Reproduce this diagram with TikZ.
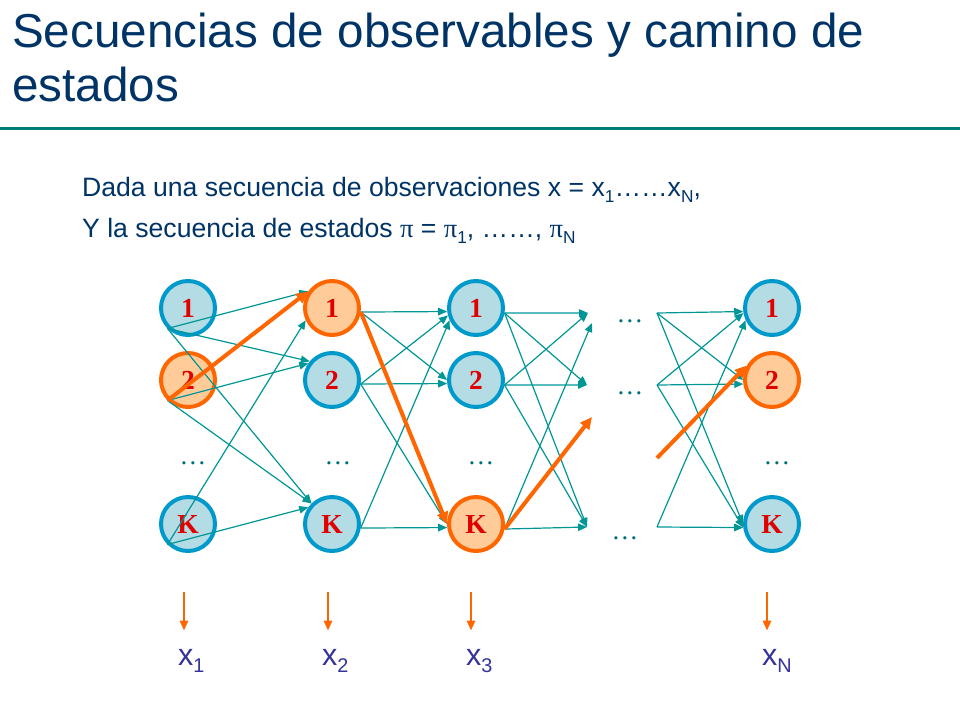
\documentclass[tikz,border=0pt]{standalone}
\usepackage{fontspec}
\usepackage{graphicx}
\setmainfont{Liberation Sans}
\newfontfamily\statefont{Liberation Serif}
\usetikzlibrary{
  positioning,
  calc,
  arrows.meta}
\definecolor{titlecolor}{RGB}{0,51,102}
\definecolor{rulecolor}{RGB}{0,125,120}
\definecolor{statedraw}{RGB}{0,153,204}
\definecolor{statefill}{RGB}{180,220,228}
\definecolor{pathdraw}{RGB}{255,102,0}
\definecolor{pathfill}{RGB}{255,204,153}
\definecolor{transcolor}{RGB}{0,150,150}
\definecolor{labelcolor}{RGB}{225,0,0}
\definecolor{dotscolor}{RGB}{0,110,110}
\definecolor{obscolor}{RGB}{51,51,153}
%% lowered subscript, as on the slide
\newcommand{\lowsub}[1]{\raisebox{-0.25em}{\scalebox{0.65}{#1}}}
\newcommand{\pisym}{{\statefont π}}
\tikzset{
  %% title : slide title lines
  title/.style={
    anchor=base west,
    inner sep=0pt,
    text=titlecolor,
    font=\fontsize{47.6}{54}\selectfont
  },
  %% intro : the two text lines
  intro/.style={
    anchor=base west,
    inner sep=0pt,
    text=titlecolor,
    font=\fontsize{26.6}{32}\selectfont
  },
  %% state : a hidden state
  state/.style={
    circle,
    draw=statedraw,
    fill=statefill,
    line width=4pt,
    outer sep=2pt,
    minimum size=54pt,
    inner sep=0pt,
    text=labelcolor,
    font=\statefont\bfseries\fontsize{27.5}{30}\selectfont
  },
  %% pathstate : a state on the chosen path
  pathstate/.style={
    state,
    draw=pathdraw,
    fill=pathfill
  },
  %% dots : the ellipsis between states
  dots/.style={
    anchor=base,
    inner sep=0pt,
    text=dotscolor,
    font=\statefont\fontsize{26.7}{30}\selectfont
  },
  %% trans : a transition
  trans/.style={
    draw=transcolor,
    line width=1.2pt,
    -{Triangle[length=9pt,width=7.5pt]}
  },
  %% pathtrans : a transition on the chosen path
  pathtrans/.style={
    draw=pathdraw,
    line width=4pt,
    -{Triangle[length=12pt,width=11pt]}
  },
  %% obs : emission arrow
  obs/.style={
    draw=pathdraw,
    line width=2.5pt,
    shorten >=18pt,
    -{Triangle[length=10pt,width=8pt]}
  },
  %% obslabel : observed symbol
  obslabel/.style={
    anchor=base west,
    inner sep=0pt,
    text=obscolor,
    font=\fontsize{30.5}{34}\selectfont
  }
}

\begin{document}
\begin{tikzpicture}
  [x=1pt,
  y=-1pt]

  \useasboundingbox (0,0) rectangle (960,720);

  %% Title
  \node (title1) [title] at (12,47) {Secuencias de observables y camino de};
  \node (title2) [title] at (12,101) {estados};
  \draw [rulecolor, line width=3pt] (0,128) -- (960,128);

  %% Text
  \node (line1) [intro] at (82,196)
    {Dada una secuencia de observaciones x = x\lowsub{1}……x\lowsub{N},};
  \node (line2) [intro] at (82,237)
    {Y la secuencia de estados \pisym{} = \pisym\lowsub{1}, ……, \pisym\lowsub{N}};

  %% States
  \node (s11) [state] at (188,308) {1};
  \node (s12) [pathstate, below=14pt of s11] {2};
  \node (s1K) [state, below=86pt of s12] {K};

  \node (s21) [pathstate, right=86pt of s11] {1};
  \node (s22) [state, below=14pt of s21] {2};
  \node (s2K) [state, below=86pt of s22] {K};

  \node (s31) [state, right=86pt of s21] {1};
  \node (s32) [state, below=14pt of s31] {2};
  \node (s3K) [pathstate, below=86pt of s32] {K};

  \node (sN1) [state, right=238pt of s31] {1};
  \node (sN2) [pathstate, below=14pt of sN1] {2};
  \node (sNK) [state, below=86pt of sN2] {K};

  %% Dots
  \node (d1) [dots] at (193,464) {…};
  \node (d2) [dots] at (338,464) {…};
  \node (d3) [dots] at (481,464) {…};
  \node (dN) [dots] at (777,464) {…};
  \node (dm1) [dots] at (630,322) {…};
  \node (dm2) [dots] at (630,394) {…};
  \node (dmK) [dots] at (625,539) {…};

  %% Free ends in the gap
  \coordinate (m1in) at (588,313);
  \coordinate (m1inb) at (592,323);
  \coordinate (m2in) at (587,385);
  \coordinate (mKin) at (587,527);
  \coordinate (mgap) at (592,417);
  \coordinate (m1out) at (657,313);
  \coordinate (m2out) at (657,385);
  \coordinate (mKout) at (657,527);
  \coordinate (mgapout) at (657,458);

  %% Connections
  \draw [trans] (s11.225) -- (s21.145);
  \draw [trans] (s11.225) -- (s22.140);
  \draw [trans] (s11.225) -- (s2K.135);
  \draw [trans] (s12.225) -- (s22.145);
  \draw [trans] (s12.225) -- (s2K.135);
  \draw [trans] (s1K.225) -- (s21.205);
  \draw [trans] (s1K.225) -- (s2K.145);

  \draw [trans] (s21.-8) -- (s31.187);
  \draw [trans] (s21.-8) -- (s32.180);
  \draw [trans] (s22.-8) -- (s31.195);
  \draw [trans] (s22.-8) -- (s32.187);
  \draw [trans] (s22.-8) -- (s3K.180);
  \draw [trans] (s2K.-8) -- (s31.205);
  \draw [trans] (s2K.-8) -- (s3K.187);

  \draw [trans] (s31.-10) -- (m1in);
  \draw [trans] (s31.-10) -- (m2in);
  \draw [trans] (s31.-10) -- (mKin);
  \draw [trans] (s32.-10) -- (m1in);
  \draw [trans] (s32.-10) -- (m2in);
  \draw [trans] (s32.-10) -- (mKin);
  \draw [trans] (s3K.-10) -- (m1inb);
  \draw [trans] (s3K.-10) -- (mKin);

  \draw [trans] (m1out) -- (sN1.187);
  \draw [trans] (m1out) -- (sN2.180);
  \draw [trans] (m1out) -- (sNK.180);
  \draw [trans] (m2out) -- (sN1.190);
  \draw [trans] (m2out) -- (sN2.188);
  \draw [trans] (m2out) -- (sNK.187);
  \draw [trans] (mKout) -- (sN1.205);
  \draw [trans] (mKout) -- (sNK.187);

  %% Path
  \draw [pathtrans] (s12.225) -- (s21.145);
  \draw [pathtrans] (s21.-8) -- (s3K.180);
  \draw [pathtrans] (s3K.-10) -- (mgap);
  \draw [pathtrans] (mgapout) -- (sN2.150);

  %% Observations
  \node (x1) [obslabel] at (178,665) {x\lowsub{1}};
  \node (x2) [obslabel] at (322,665) {x\lowsub{2}};
  \node (x3) [obslabel] at (466,665) {x\lowsub{3}};
  \node (xN) [obslabel] at (762,665) {x\lowsub{N}};

  \coordinate (o1) at (184,592);
  \coordinate (o2) at (328,592);
  \coordinate (o3) at (471,592);
  \coordinate (oN) at (767,592);
  \draw [obs] (o1) -- (o1 |- x1.north);
  \draw [obs] (o2) -- (o2 |- x2.north);
  \draw [obs] (o3) -- (o3 |- x3.north);
  \draw [obs] (oN) -- (oN |- xN.north);

\end{tikzpicture}
\end{document}
